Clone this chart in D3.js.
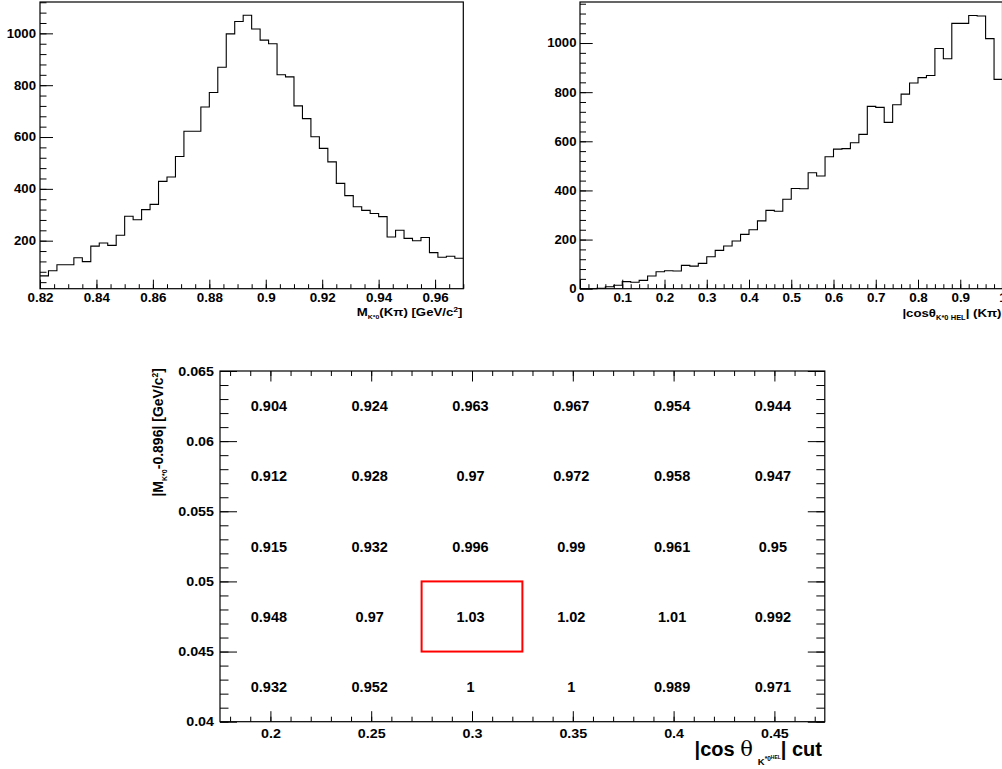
<!DOCTYPE html>
<html><head><meta charset="utf-8">
<script src="https://cdn.jsdelivr.net/npm/d3@7"></script>
<style>
html,body{margin:0;padding:0;background:#fff;}
svg{display:block;background:#fff;}
text{font-family:"Liberation Sans",Arial,Helvetica,sans-serif;font-weight:bold;fill:#000;}
</style></head><body>
<svg id="c" width="1002" height="769"></svg>
<script>
// ---------------- DATA ----------------
// Top-left: K*0 mass histogram, 50 bins from 0.82 to 0.97
const massRange = [0.82, 0.97];
const massCounts = [64, 84, 107, 107, 134, 119, 179, 191, 182, 221,
  294, 281, 320, 340, 429, 446, 525, 622, 622, 716,
  772, 869, 998, 1046, 1070, 1017, 974, 960, 840, 832,
  720, 671, 601, 556, 504, 421, 374, 331, 317, 305,
  293, 214, 240, 209, 200, 212, 154, 136, 140, 132];
const massTicks = [0.82, 0.84, 0.86, 0.88, 0.9, 0.92, 0.94, 0.96];
const massCountTicks = [200, 400, 600, 800, 1000];

// Top-right: |cos theta_hel| histogram, 50 bins from 0 to 1
const cosRange = [0, 1];
const cosCounts = [0, 0, 2, 8, 14, 29, 26, 34, 52, 69,
  73, 72, 95, 92, 103, 130, 156, 174, 194, 221,
  240, 276, 319, 315, 364, 408, 407, 472, 459, 537,
  568, 570, 594, 628, 742, 738, 677, 749, 792, 837,
  859, 868, 978, 936, 1080, 1080, 1112, 1110, 1018, 852];
const cosTicks = [0, 0.1, 0.2, 0.3, 0.4, 0.5, 0.6, 0.7, 0.8, 0.9, 1];
const cosCountTicks = [0, 200, 400, 600, 800, 1000];

// Bottom: cut scan table
const cutCos = [0.2, 0.25, 0.3, 0.35, 0.4, 0.45];            // column centres
const cutMass = [0.0625, 0.0575, 0.0525, 0.0475, 0.0425];    // row centres
const row0625 = [0.904, 0.924, 0.963, 0.967, 0.954, 0.944];
const row0575 = [0.912, 0.928, 0.97, 0.972, 0.958, 0.947];
const row0525 = [0.915, 0.932, 0.996, 0.99, 0.961, 0.95];
const row0475 = [0.948, 0.97, 1.03, 1.02, 1.01, 0.992];
const row0425 = [0.932, 0.952, 1, 1, 0.989, 0.971];
const cutXTicks = [0.2, 0.25, 0.3, 0.35, 0.4, 0.45];
const cutYTicks = [0.04, 0.045, 0.05, 0.055, 0.06, 0.065];
const bestCut = [0.3, 0.0475];

// ---------------- DRAW ----------------
const svg = d3.select("#c");
svg.append("rect").attr("width",1002).attr("height",769).attr("fill","#fff");

const fmt = d => String(+(+d).toFixed(4));

function styleAxis(g, size, sx) {
  g.select(".domain").remove();
  g.selectAll("line").attr("stroke","#000").attr("stroke-width",1);
  g.selectAll("text").attr("font-size", size).attr("fill","#000")
    .attr("font-family",'"Liberation Sans",Arial,sans-serif').attr("font-weight","bold");
  if (sx !== 1) g.selectAll("text").attr("transform", `scale(${sx},1)`);
}
function minorTicks(parent, axis, tr) {
  const g = parent.append("g").attr("transform", tr).call(axis.tickFormat(() => ""));
  g.select(".domain").remove();
  g.selectAll("line").attr("stroke","#000").attr("stroke-width",1);
  g.selectAll("text").remove();
}
function stepPath(xs, ys, range, counts) {
  const n = counts.length, w = (range[1]-range[0])/n;
  const pts = counts.map((c,i) => [range[0]+i*w, c]);
  pts.push([range[1], counts[n-1]]);
  return d3.line().x(d => xs(d[0])).y(d => ys(d[1])).curve(d3.curveStepAfter)(pts);
}

// ===== Panel 1 =====
{
  const x = d3.scaleLinear().domain(massRange).range([40, 463.3]);
  const y = d3.scaleLinear().domain([14.7, 1121]).range([288.7, 2]);
  const g = svg.append("g");
  g.append("path").attr("d", stepPath(x, y, massRange, massCounts))
    .attr("fill","none").attr("stroke","#000").attr("stroke-width",1.1);
  minorTicks(g, d3.axisBottom(x).tickValues(d3.range(0,31).map(i => 0.82 + i*0.005)).tickSizeInner(-4.5).tickSizeOuter(0), "translate(0,288.7)");
  minorTicks(g, d3.axisLeft(y).tickValues(d3.range(1,29).map(i => i*40)).tickSizeInner(-6.5).tickSizeOuter(0), "translate(40,0)");
  const xa = g.append("g").attr("transform","translate(0,288.7)")
    .call(d3.axisBottom(x).tickValues(massTicks).tickFormat(fmt).tickSizeInner(-9).tickSizeOuter(0).tickPadding(4.5));
  styleAxis(xa, 12, 1.12);
  const ya = g.append("g").attr("transform","translate(40,0)")
    .call(d3.axisLeft(y).tickValues(massCountTicks).tickFormat(fmt).tickSizeInner(-13).tickSizeOuter(0).tickPadding(4/1.1));
  styleAxis(ya, 12, 1.1);
  g.append("rect").attr("x",40).attr("y",2).attr("width",423.3).attr("height",286.7)
    .attr("fill","none").attr("stroke","#000").attr("stroke-width",1.2);
  const t = g.append("text").attr("text-anchor","end")
    .attr("transform","translate(462.5,316) scale(1.15,1)").attr("font-size",11.5);
  t.append("tspan").text("M");
  t.append("tspan").attr("font-size",6).attr("dy",3).text("K*0");
  t.append("tspan").attr("dy",-3).text("(Kπ) [GeV/c");
  t.append("tspan").attr("font-size",7.5).attr("dy",-4.5).text("2");
  t.append("tspan").attr("dy",4.5).text("]");
}

// ===== Panel 2 =====
{
  const x = d3.scaleLinear().domain(cosRange).range([580, 1002.5]);
  const y = d3.scaleLinear().domain([0, 1167]).range([288.7, 2]);
  const g = svg.append("g");
  g.append("path").attr("d", stepPath(x, y, cosRange, cosCounts))
    .attr("fill","none").attr("stroke","#000").attr("stroke-width",1.1);
  minorTicks(g, d3.axisBottom(x).tickValues(d3.range(0,51).map(i => i*0.02)).tickSizeInner(-4.5).tickSizeOuter(0), "translate(0,288.7)");
  minorTicks(g, d3.axisLeft(y).tickValues(d3.range(1,30).map(i => i*40)).tickSizeInner(-6).tickSizeOuter(0), "translate(580,0)");
  const xa = g.append("g").attr("transform","translate(0,288.7)")
    .call(d3.axisBottom(x).tickValues(cosTicks).tickFormat(fmt).tickSizeInner(-9).tickSizeOuter(0).tickPadding(4.5));
  styleAxis(xa, 12, 1.12);
  const ya = g.append("g").attr("transform","translate(580,0)")
    .call(d3.axisLeft(y).tickValues(cosCountTicks).tickFormat(fmt).tickSizeInner(-12.7).tickSizeOuter(0).tickPadding(3.5/1.1));
  styleAxis(ya, 12, 1.1);
  g.append("rect").attr("x",580).attr("y",2).attr("width",422.5).attr("height",286.7)
    .attr("fill","none").attr("stroke","#000").attr("stroke-width",1.2);
  const t = g.append("text").attr("text-anchor","end")
    .attr("transform","translate(1001.5,317) scale(1.15,1)").attr("font-size",11.5);
  t.append("tspan").text("|cosθ");
  t.append("tspan").attr("font-size",6.5).attr("dy",3).text("K*0");
  t.append("tspan").attr("font-size",6.5).attr("dx",2).text("HEL");
  t.append("tspan").attr("dy",-3).text("| (Kπ)");
}

// ===== Panel 3 =====
{
  const x = d3.scaleLinear().domain([0.175, 0.475]).range([220, 824.8]);
  const y = d3.scaleLinear().domain([0.04, 0.065]).range([721.7, 371]);
  const g = svg.append("g");
  const rows = [row0625, row0575, row0525, row0475, row0425];
  rows.forEach((row, ri) => {
    g.selectAll(null).data(row).enter().append("text")
      .attr("x", (d,i) => x(cutCos[i]) - 1.5)
      .attr("y", y(cutMass[ri]))
      .attr("dy","0.36em")
      .attr("text-anchor","middle")
      .attr("font-size",14.5)
      .text(d => String(d));
  });
  g.append("rect")
    .attr("x", x(bestCut[0]-0.025)).attr("y", y(bestCut[1]+0.0025))
    .attr("width", x(bestCut[0]+0.025)-x(bestCut[0]-0.025))
    .attr("height", y(bestCut[1]-0.0025)-y(bestCut[1]+0.0025))
    .attr("fill","none").attr("stroke","#f00").attr("stroke-width",2);
  const mx = d3.range(0,30).map(i => 0.18 + i*0.01);
  const my = d3.range(0,26).map(i => 0.04 + i*0.001);
  minorTicks(g, d3.axisBottom(x).tickValues(mx).tickSizeInner(-5).tickSizeOuter(0), "translate(0,721.7)");
  minorTicks(g, d3.axisTop(x).tickValues(mx).tickSizeInner(-5).tickSizeOuter(0), "translate(0,371)");
  minorTicks(g, d3.axisLeft(y).tickValues(my).tickSizeInner(-8.5).tickSizeOuter(0), "translate(220,0)");
  minorTicks(g, d3.axisRight(y).tickValues(my).tickSizeInner(-8.5).tickSizeOuter(0), "translate(824.8,0)");
  minorTicks(g, d3.axisTop(x).tickValues(cutXTicks).tickSizeInner(-10.5).tickSizeOuter(0), "translate(0,371)");
  minorTicks(g, d3.axisRight(y).tickValues(cutYTicks).tickSizeInner(-17).tickSizeOuter(0), "translate(824.8,0)");
  const xa = g.append("g").attr("transform","translate(0,721.7)")
    .call(d3.axisBottom(x).tickValues(cutXTicks).tickFormat(fmt).tickSizeInner(-10.5).tickSizeOuter(0).tickPadding(7));
  styleAxis(xa, 13, 1.1);
  const ya = g.append("g").attr("transform","translate(220,0)")
    .call(d3.axisLeft(y).tickValues(cutYTicks).tickFormat(fmt).tickSizeInner(-17).tickSizeOuter(0).tickPadding(6/1.1));
  styleAxis(ya, 13, 1.1);
  g.append("rect").attr("x",220).attr("y",371).attr("width",604.8).attr("height",350.7)
    .attr("fill","none").attr("stroke","#000").attr("stroke-width",1.2);
  const ty = g.append("text").attr("text-anchor","end")
    .attr("transform","translate(163,368) rotate(-90)").attr("font-size",14);
  ty.append("tspan").text("|M");
  ty.append("tspan").attr("font-size",7).attr("dy",4).text("K*0");
  ty.append("tspan").attr("dy",-4).text("-0.896| [GeV/c");
  ty.append("tspan").attr("font-size",8.5).attr("dy",-5.5).text("2");
  ty.append("tspan").attr("dy",5.5).text("]");
  const tx = g.append("text").attr("text-anchor","end")
    .attr("transform","translate(822,756)").attr("font-size",20);
  tx.append("tspan").text("|cos ");
  tx.append("tspan").attr("font-family",'"DejaVu Serif",serif').attr("font-weight","normal").attr("font-size",21).text("θ");
  tx.append("tspan").attr("font-size",9.5).attr("dx",5).attr("dy",9).text("K");
  tx.append("tspan").attr("font-size",6.5).attr("dy",-4).text("*0");
  tx.append("tspan").attr("font-size",5).attr("dy",-2).text("HEL");
  tx.append("tspan").attr("dy",-3).text("| cut");
}
</script>
</body></html>
